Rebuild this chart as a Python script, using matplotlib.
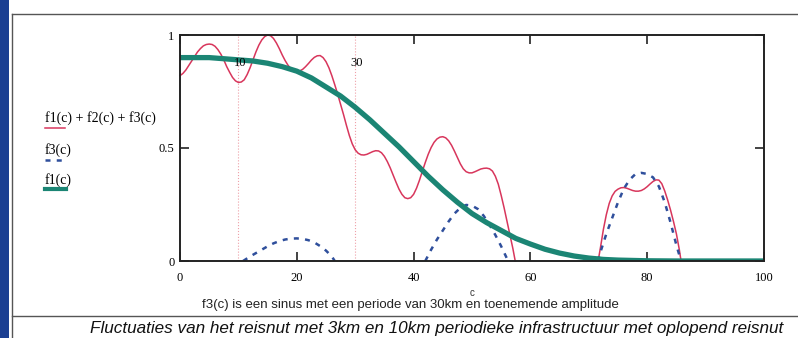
import numpy as np
import matplotlib
matplotlib.use("Agg")
import matplotlib.pyplot as plt
from matplotlib.lines import Line2D
from matplotlib.patches import Rectangle

# f1(c): smooth decline (teal)
f1_c = [0, 2.5, 5, 7.5, 10, 12.5, 15, 17.5, 20, 22.5, 25, 27.5, 30, 32.5, 35, 37.5, 40,
        42.5, 45, 47.5, 50, 52.5, 55, 57.5, 60, 62.5, 65, 67.5, 70, 72.5, 75, 80, 85, 100]
f1_v = [0.9, 0.9, 0.9, 0.895, 0.89, 0.885, 0.875, 0.86, 0.84, 0.81, 0.77, 0.73, 0.68, 0.625,
        0.565, 0.505, 0.44, 0.375, 0.315, 0.26, 0.21, 0.17, 0.135, 0.1, 0.075, 0.052, 0.035,
        0.022, 0.013, 0.007, 0.004, 0.001, 0.0, 0.0]

# f1+f2+f3 (red), read every 0.5 km; only the parts above 0 are visible
sum_c1 = list(np.arange(0, 57.01, 0.5)) + [57.4]
sum_v1 = [0.82, 0.83, 0.845, 0.865, 0.885, 0.905, 0.925, 0.94, 0.952, 0.958,
          0.96, 0.958, 0.95, 0.935, 0.915, 0.89, 0.86, 0.835, 0.812, 0.797,
          0.79, 0.792, 0.802, 0.825, 0.855, 0.89, 0.925, 0.955, 0.978, 0.993,
          1.0, 0.997, 0.985, 0.965, 0.94, 0.912, 0.887, 0.866, 0.851, 0.842,
          0.839, 0.841, 0.848, 0.86, 0.874, 0.889, 0.901, 0.908, 0.909, 0.9,
          0.882, 0.855, 0.82, 0.78, 0.738, 0.693, 0.648, 0.6, 0.555, 0.518,
          0.492, 0.477, 0.47, 0.469, 0.472, 0.478, 0.484, 0.488, 0.487, 0.479,
          0.463, 0.44, 0.412, 0.38, 0.348, 0.318, 0.295, 0.28, 0.276, 0.28,
          0.295, 0.322, 0.357, 0.397, 0.436, 0.472, 0.502, 0.525, 0.54, 0.548,
          0.55, 0.545, 0.532, 0.512, 0.486, 0.458, 0.43, 0.408, 0.395, 0.39,
          0.39, 0.395, 0.401, 0.407, 0.41, 0.411, 0.408, 0.398, 0.375, 0.34,
          0.29, 0.235, 0.175, 0.115, 0.055, 0.0]
sum_c2 = [71.6] + list(np.arange(72, 85.51, 0.5)) + [85.8]
sum_v2 = [0.0, 0.06, 0.14, 0.205, 0.255, 0.288, 0.308, 0.318, 0.324, 0.325, 0.322,
          0.317, 0.312, 0.309, 0.309, 0.312, 0.319, 0.329, 0.341, 0.352, 0.359,
          0.358, 0.342, 0.31, 0.27, 0.225, 0.175, 0.12, 0.05, 0.0]

# f3(c): sine with period 30 and growing amplitude (blue dashed), positive lobes
f3_c1 = [10.8, 12, 13, 14, 15, 16, 17, 18, 19, 20, 21, 22, 23, 24, 25, 26, 26.5]
f3_v1 = [0.0, 0.02, 0.035, 0.05, 0.065, 0.078, 0.088, 0.095, 0.099, 0.1, 0.098, 0.092, 0.082,
         0.066, 0.046, 0.02, 0.0]
f3_c2 = [42, 43, 44, 45, 46, 47, 48, 49, 50, 51, 52, 53, 54, 55, 56, 56.3]
f3_v2 = [0.0, 0.05, 0.095, 0.135, 0.175, 0.21, 0.235, 0.248, 0.245, 0.23, 0.2, 0.16, 0.115,
         0.065, 0.01, 0.0]
f3_c3 = [71.5, 72, 73, 74, 75, 76, 77, 78, 79, 80, 81, 82, 83, 84, 85, 85.8]
f3_v3 = [0.0, 0.04, 0.12, 0.19, 0.26, 0.32, 0.36, 0.385, 0.39, 0.385, 0.37, 0.33, 0.26, 0.17,
         0.07, 0.0]

markers = [10, 30]
xticks = [0, 20, 40, 60, 80, 100]
yticks = [0, 0.5, 1]
ytick_labels = ["0", "0.5", "1"]

RED = "#d8365c"
TEAL = "#1b8574"
BLUE = "#2f4f9c"
SERIF = "Liberation Serif"
SANS = "Liberation Sans"

W, H = 798, 338
fig = plt.figure(figsize=(W / 100, H / 100), dpi=100)
fig.patch.set_facecolor("white")

def fx(px):
    return px / W

def fy(py):
    return 1 - py / H

# page decorations (scanned page edges)
fig.add_artist(Rectangle((0, 0), fx(9), 1, transform=fig.transFigure, color="#1b3f92", lw=0))
fig.add_artist(Line2D([fx(12), fx(12)], [0, fy(14)], transform=fig.transFigure, color="#555", lw=1))
fig.add_artist(Line2D([fx(12), 1], [fy(14), fy(14)], transform=fig.transFigure, color="#555", lw=1))
fig.add_artist(Line2D([fx(12), 1], [fy(316), fy(316)], transform=fig.transFigure, color="#555", lw=1))

ax = fig.add_axes([fx(180), fy(261), fx(764) - fx(180), fy(35) - fy(261)])
ax.set_xlim(0, 100)
ax.set_ylim(0, 1)

for m in markers:
    ax.axvline(m, color="#eea0a8", lw=0.8, ls=":")
    ax.text(m + 0.3, 0.876, str(m), fontsize=9, family=SERIF, ha="center", va="center")

ax.plot(sum_c1, sum_v1, color=RED, lw=1.1, clip_on=False)
ax.plot(sum_c2, sum_v2, color=RED, lw=1.1)
for cc, vv in [(f3_c1, f3_v1), (f3_c2, f3_v2), (f3_c3, f3_v3)]:
    ax.plot(cc, vv, color=BLUE, lw=1.8, ls=(0, (2, 2.5)))
ax.plot(f1_c, f1_v, color=TEAL, lw=3.8, solid_capstyle="butt")

ax.set_xticks(xticks)
ax.set_xticklabels([str(t) for t in xticks], family=SERIF, fontsize=9)
ax.set_yticks(yticks)
ax.set_yticklabels(ytick_labels, family=SERIF, fontsize=9)
ax.tick_params(direction="in", top=True, right=True, length=6.5, width=1.2, color="#222")
ax.tick_params(axis="x", pad=8)
ax.tick_params(axis="y", pad=4)
for s in ax.spines.values():
    s.set_linewidth(1.4)
    s.set_color("#222")

# x-axis label
fig.text(fx(472), fy(293), "c", fontsize=7, family=SANS, ha="center", va="center", color="#333")

# trace legend (Mathcad style)
fig.text(fx(45), fy(118), "f1(c) + f2(c) + f3(c)", fontsize=10, family=SERIF, va="center")
fig.add_artist(Line2D([fx(45), fx(65)], [fy(128), fy(128)], transform=fig.transFigure, color=RED, lw=1.1))
fig.text(fx(45), fy(150), "f3(c)", fontsize=10, family=SERIF, va="center")
fig.add_artist(Line2D([fx(45), fx(66)], [fy(160), fy(160)], transform=fig.transFigure, color=BLUE, lw=1.8, ls=(0, (2, 2.5))))
fig.text(fx(45), fy(180), "f1(c)", fontsize=10, family=SERIF, va="center")
fig.add_artist(Line2D([fx(45), fx(66)], [fy(189), fy(189)], transform=fig.transFigure, color=TEAL, lw=3))

fig.text(fx(410), fy(305), "f3(c) is een sinus met een periode van 30km en toenemende amplitude",
         fontsize=9.5, family=SANS, ha="center", va="center", color="#222")
fig.text(fx(90), fy(329), "Fluctuaties van het reisnut met 3km en 10km periodieke infrastructuur met oplopend reisnut",
         fontsize=12.3, family=SANS, style="italic", ha="left", va="center", color="#111")

fig.savefig("out.png", dpi=100)
